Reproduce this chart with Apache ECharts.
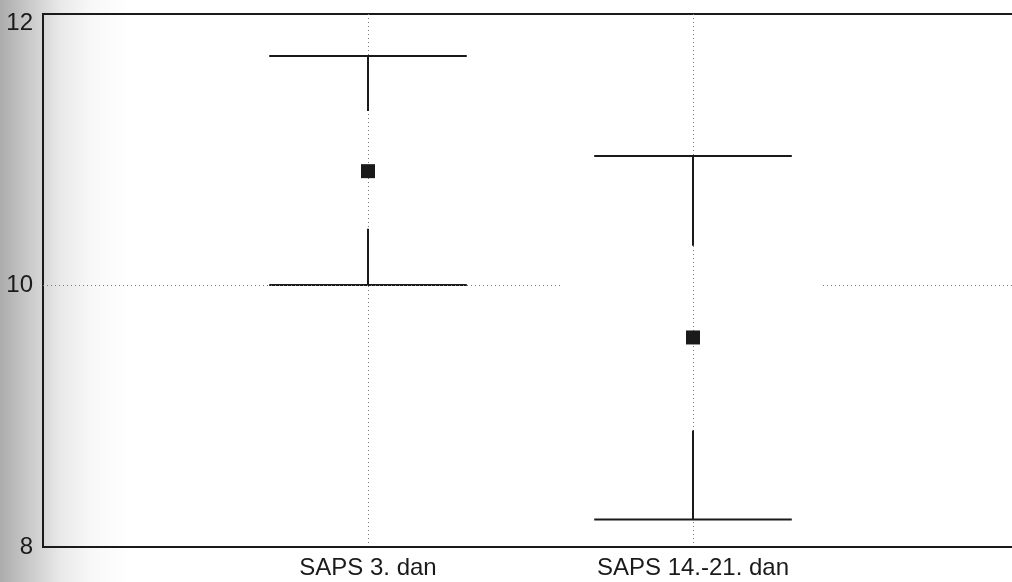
<!DOCTYPE html>
<html>
<head>
<meta charset="utf-8">
<script src="https://cdn.jsdelivr.net/npm/echarts@6/dist/echarts.min.js"></script>
<style>
html,body{margin:0;padding:0;background:#fff;}
#c{width:1012px;height:582px;}
</style>
</head>
<body>
<div id="c"></div>
<script>
const categories = ['SAPS 3. dan', 'SAPS 14.-21. dan'];
const means = [10.87, 9.60];
const innerHigh = [11.33, 10.30];
const innerLow = [10.43, 8.89];
const whiskerHigh = [11.75, 10.985];
const whiskerLow = [10.0, 8.21];
const yTickLabels = [8, 10, 12];

const chart = echarts.init(document.getElementById('c'), null, {renderer: 'canvas'});

const whiskerData = categories.map((c, i) => [i + 1, means[i], innerHigh[i], innerLow[i], whiskerHigh[i], whiskerLow[i]]);
const meanData = categories.map((c, i) => [i + 1, means[i]]);

const lineStyle = {stroke: '#1a1a1a', lineWidth: 2};

const option = {
  animation: false,
  backgroundColor: {
    type: 'linear', x: 0, y: 0, x2: 1, y2: 0,
    colorStops: [
      {offset: 0, color: '#acacac'},
      {offset: 0.03, color: '#cbcbcb'},
      {offset: 0.06, color: '#e9e9e9'},
      {offset: 0.09, color: '#f8f8f8'},
      {offset: 0.13, color: '#ffffff'},
      {offset: 1, color: '#ffffff'}
    ]
  },
  grid: {
    left: 43, top: 14, right: -6, bottom: 35,
    show: true, borderColor: '#1a1a1a', borderWidth: 2, backgroundColor: 'transparent',
    outerBoundsMode: 'none'
  },
  xAxis: {
    type: 'value', min: 0, max: 3, interval: 1,
    axisLine: {show: true, lineStyle: {color: '#1a1a1a', width: 2}},
    axisTick: {show: false},
    splitLine: {show: true, lineStyle: {color: '#777', width: 1, type: [1, 3]}},
    axisLabel: {
      color: '#1a1a1a', fontFamily: 'Liberation Sans, Arial', fontSize: 24, margin: 9,
      formatter: v => (Number.isInteger(v) && v >= 1 && v <= categories.length) ? categories[v - 1] : ''
    }
  },
  yAxis: {
    type: 'value', min: 8, max: 12.07, interval: 2,
    axisLine: {show: true, lineStyle: {color: '#1a1a1a', width: 2}},
    axisTick: {show: false},
    splitLine: {show: false},
    axisLabel: {
      color: '#1a1a1a', fontFamily: 'Liberation Sans, Arial', fontSize: 24, margin: 10,
      padding: [5, 0, 0, 0],
      formatter: v => yTickLabels.includes(v) ? String(v) : ''
    }
  },
  series: [
    {
      type: 'custom',
      data: whiskerData,
      encode: {x: 0, y: [1, 2, 3, 4, 5]},
      renderItem: function (params, api) {
        const x = api.value(0);
        const pHi = api.coord([x, api.value(4)]);
        const pIh = api.coord([x, api.value(2)]);
        const pIl = api.coord([x, api.value(3)]);
        const pLo = api.coord([x, api.value(5)]);
        const half = api.size([0.304, 0])[0];
        return {
          type: 'group',
          children: [
            {type: 'line', shape: {x1: pHi[0] - half, y1: pHi[1], x2: pHi[0] + half, y2: pHi[1]}, style: lineStyle},
            {type: 'line', shape: {x1: pHi[0], y1: pHi[1], x2: pIh[0], y2: pIh[1]}, style: lineStyle},
            {type: 'line', shape: {x1: pIl[0], y1: pIl[1], x2: pLo[0], y2: pLo[1]}, style: lineStyle},
            {type: 'line', shape: {x1: pLo[0] - half, y1: pLo[1], x2: pLo[0] + half, y2: pLo[1]}, style: lineStyle}
          ]
        };
      },
      z: 3
    },
    {
      type: 'scatter',
      data: meanData,
      symbol: 'rect',
      symbolSize: 14,
      itemStyle: {color: '#1a1a1a', opacity: 1},
      z: 4,
      markLine: {
        silent: true,
        symbol: 'none',
        label: {show: false},
        lineStyle: {color: '#777', width: 1, type: [1, 3]},
        data: [
          [{coord: [0, 10]}, {coord: [1.6, 10]}],
          [{coord: [2.4, 10]}, {coord: [3, 10]}]
        ]
      }
    }
  ]
};
chart.setOption(option);
</script>
</body>
</html>
